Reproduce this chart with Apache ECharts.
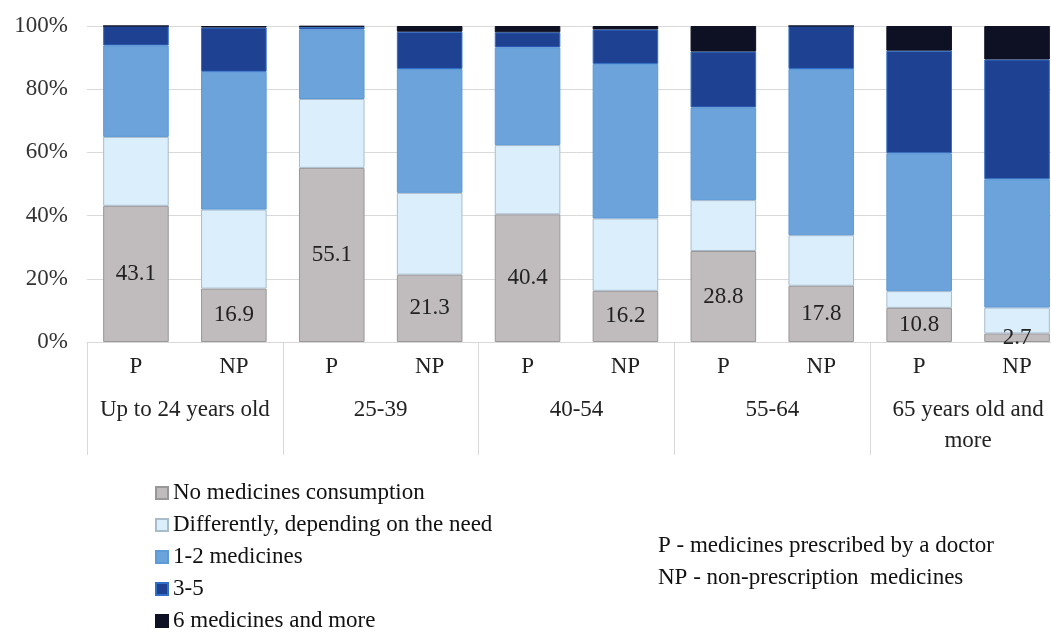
<!DOCTYPE html>
<html lang="en">
<head>
<meta charset="utf-8">
<script type="text/javascript" src="https://cdn.jsdelivr.net/npm/echarts@6/dist/echarts.min.js"></script>
<style>
  html, body { margin: 0; padding: 0; background: #fff; overflow: hidden; }
  /* a bit wider than the window: the original is cropped at the right edge */
  #main { width: 1066px; height: 641px; }
</style>
</head>
<body>
<div id="main"></div>
<script type="text/javascript">
// bars: P / NP for each age group
var bars = ['P', 'NP', 'P', 'NP', 'P', 'NP', 'P', 'NP', 'P', 'NP'];
var groups = ['Up to 24 years old', '25-39', '40-54', '55-64', '65 years old and\nmore'];
var yTicks = [0, 20, 40, 60, 80, 100];

var names = ['No medicines consumption', 'Differently, depending on the need', '1-2 medicines', '3-5', '6 medicines and more'];
var noMed    = [43.1, 16.9, 55.1, 21.3, 40.4, 16.2, 28.8, 17.8, 10.8, 2.7];
var depend   = [21.8, 25.0, 21.8, 25.9, 21.9, 22.9, 16.1, 16.0, 5.3, 8.2];
var oneTwo   = [28.9, 43.6, 22.0, 39.2, 30.9, 48.9, 29.3, 52.6, 43.6, 40.6];
var threeFive = [6.2, 14.0, 0.9, 11.8, 4.8, 10.9, 17.7, 13.6, 32.5, 37.9];
var sixMore  = [0, 0.5, 0.2, 1.8, 2.0, 1.1, 8.1, 0, 7.8, 10.6];

var colors = ['#c0bbbd', '#dbeefb', '#6ba3da', '#1f4191', '#0e1124'];
var borders = ['#9a9798', '#a9bccc', '#5d9ad8', '#2f70c8', '#0e1124'];
var serif = '"Liberation Serif", "Times New Roman", serif';

var myChart = echarts.init(document.getElementById('main'));

var allData = [noMed, depend, oneTwo, threeFive, sixMore];
var series = [];
for (var i = 0; i < allData.length; i++) {
    series.push({
        name: names[i],
        type: 'bar',
        stack: 'all',
        xAxisIndex: 0,
        barCategoryGap: '33%',
        itemStyle: { color: colors[i], borderColor: borders[i], borderWidth: 1 },
        label: i === 0 ? {
            show: true,
            position: 'inside',
            color: '#222',
            fontFamily: serif,
            fontSize: 23
        } : { show: false },
        data: allData[i]
    });
}

var option = {
    animation: false,
    legend: {
        orient: 'vertical',
        left: 150,
        top: 476,
        itemWidth: 12,
        itemHeight: 12,
        itemGap: 8,
        icon: 'rect',
        textStyle: { fontFamily: serif, fontSize: 23, color: '#111', lineHeight: 24 },
        data: names
    },
    graphic: [{
        type: 'text',
        left: 658,
        top: 530,
        style: {
            text: 'P - medicines prescribed by a doctor\nNP - non-prescription  medicines',
            font: '23px ' + serif,
            lineHeight: 32,
            fill: '#111'
        }
    }],
    grid: { left: 87, right: 0, top: 26, bottom: 299 },
    xAxis: [{
        type: 'category',
        data: bars,
        axisLine: { lineStyle: { color: '#d9d9d9' } },
        axisTick: { show: false },
        axisLabel: { interval: 0, color: '#222', fontFamily: serif, fontSize: 23, margin: 13 }
    }, {
        type: 'category',
        position: 'bottom',
        data: groups,
        axisLine: { show: false },
        axisTick: { show: true, interval: 0, length: 113, lineStyle: { color: '#d9d9d9' } },
        axisLabel: { interval: 0, color: '#222', fontFamily: serif, fontSize: 23, margin: 52, lineHeight: 31 }
    }],
    yAxis: {
        type: 'value',
        min: yTicks[0],
        max: yTicks[yTicks.length - 1],
        interval: yTicks[1] - yTicks[0],
        axisLine: { show: false },
        axisTick: { show: false },
        splitLine: { lineStyle: { color: '#d9d9d9' } },
        axisLabel: { formatter: '{value}%', color: '#333', fontFamily: serif, fontSize: 23, margin: 19 }
    },
    series: series
};

myChart.setOption(option);
</script>
</body>
</html>
